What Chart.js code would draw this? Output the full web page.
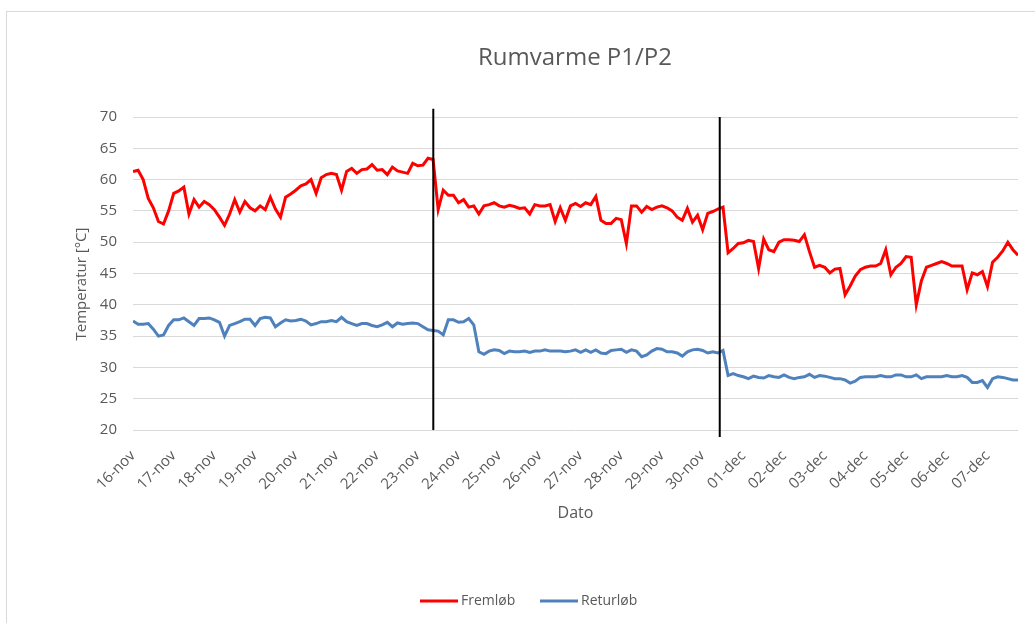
<!DOCTYPE html>
<html>
<head>
<meta charset="utf-8">
<title>Rumvarme P1/P2</title>
<script src="https://cdn.jsdelivr.net/npm/chart.js@4/dist/chart.umd.min.js"></script>
<style>
  html, body { margin: 0; padding: 0; background: #fff; }
  #wrap { position: relative; width: 1035px; height: 623px; overflow: hidden; }
  #frame { position: absolute; left: 6px; top: 11px; width: 1100px; height: 700px; border: 1px solid #d9d9d9; box-sizing: border-box; }
  #c { position: absolute; left: 0; top: 0; }
</style>
</head>
<body>
<div id="wrap">
  <div id="frame"></div>
  <canvas id="c" width="1035" height="623"></canvas>
</div>
<script>
// Date labels for the x axis (one per day, starting 16 November)
const dagLabels = ['16-nov','17-nov','18-nov','19-nov','20-nov','21-nov','22-nov','23-nov',
  '24-nov','25-nov','26-nov','27-nov','28-nov','29-nov','30-nov',
  '01-dec','02-dec','03-dec','04-dec','05-dec','06-dec','07-dec'];

// Readings every 3 hours (0.125 day), one row per day
const maalInterval = 0.125;

// Fremløb (supply) temperature, °C
const fremloeb = [
  61.3, 61.5, 60.0, 57.0, 55.5, 53.3, 52.9, 55.0,   // 16-nov
  57.8, 58.2, 58.8, 54.5, 56.8, 55.6, 56.5, 56.0,   // 17-nov
  55.2, 54.0, 52.7, 54.5, 56.8, 54.8, 56.5, 55.5,   // 18-nov
  55.0, 55.8, 55.2, 57.2, 55.3, 54.0, 57.2, 57.7,   // 19-nov
  58.3, 59.0, 59.3, 60.0, 57.8, 60.3, 60.8, 61.0,   // 20-nov
  60.8, 58.3, 61.3, 61.8, 61.0, 61.6, 61.7, 62.4,   // 21-nov
  61.5, 61.6, 60.8, 62.0, 61.4, 61.2, 61.0, 62.6,   // 22-nov
  62.2, 62.3, 63.4, 63.2, 55.2, 58.3, 57.5, 57.5,   // 23-nov
  56.3, 56.8, 55.6, 55.8, 54.5, 55.8, 56.0, 56.3,   // 24-nov
  55.8, 55.6, 55.9, 55.7, 55.4, 55.5, 54.5, 56.0,   // 25-nov
  55.8, 55.8, 56.0, 53.3, 55.5, 53.5, 55.8, 56.2,   // 26-nov
  55.7, 56.3, 56.0, 57.3, 53.5, 53.0, 53.0, 53.8,   // 27-nov
  53.6, 49.8, 55.8, 55.8, 54.8, 55.7, 55.2, 55.6,   // 28-nov
  55.8, 55.5, 55.0, 54.0, 53.5, 55.4, 53.2, 54.3,   // 29-nov
  52.0, 54.6, 54.9, 55.3, 55.6, 48.3, 49.0, 49.8,   // 30-nov
  49.9, 50.3, 50.1, 45.8, 50.5, 48.8, 48.5, 50.0,   // 01-dec
  50.4, 50.4, 50.3, 50.1, 51.2, 48.5, 46.0, 46.3,   // 02-dec
  46.0, 45.1, 45.7, 45.8, 41.6, 43.0, 44.6, 45.6,   // 03-dec
  46.0, 46.2, 46.2, 46.6, 48.8, 44.8, 46.0, 46.6,   // 04-dec
  47.7, 47.6, 40.0, 43.8, 46.0, 46.3, 46.6, 46.9,   // 05-dec
  46.6, 46.2, 46.2, 46.2, 42.4, 45.1, 44.8, 45.3,   // 06-dec
  42.9, 46.8, 47.6, 48.6, 50.0, 48.8, 47.9          // 07-dec
];

// Returløb (return) temperature, °C
const returloeb = [
  37.4, 36.9, 36.9, 37.0, 36.1, 35.0, 35.2, 36.7,   // 16-nov
  37.6, 37.6, 37.9, 37.3, 36.7, 37.8, 37.8, 37.9,   // 17-nov
  37.6, 37.2, 35.0, 36.7, 37.0, 37.3, 37.7, 37.7,   // 18-nov
  36.7, 37.8, 38.0, 37.9, 36.5, 37.1, 37.6, 37.4,   // 19-nov
  37.5, 37.7, 37.4, 36.8, 37.0, 37.3, 37.3, 37.5,   // 20-nov
  37.3, 38.0, 37.3, 37.0, 36.7, 37.0, 37.0, 36.7,   // 21-nov
  36.5, 36.8, 37.2, 36.5, 37.1, 36.9, 37.0, 37.1,   // 22-nov
  37.0, 36.5, 36.0, 35.9, 35.8, 35.2, 37.6, 37.6,   // 23-nov
  37.2, 37.3, 37.8, 36.8, 32.5, 32.1, 32.6, 32.8,   // 24-nov
  32.7, 32.2, 32.6, 32.5, 32.5, 32.6, 32.4, 32.6,   // 25-nov
  32.6, 32.8, 32.6, 32.6, 32.6, 32.5, 32.6, 32.8,   // 26-nov
  32.4, 32.8, 32.4, 32.8, 32.3, 32.2, 32.7, 32.8,   // 27-nov
  32.9, 32.4, 32.8, 32.6, 31.7, 32.0, 32.6, 33.0,   // 28-nov
  32.9, 32.5, 32.5, 32.3, 31.8, 32.5, 32.8, 32.9,   // 29-nov
  32.7, 32.3, 32.5, 32.3, 32.7, 28.7, 29.0, 28.7,   // 30-nov
  28.5, 28.2, 28.6, 28.4, 28.3, 28.7, 28.5, 28.4,   // 01-dec
  28.8, 28.4, 28.2, 28.4, 28.5, 28.9, 28.4, 28.7,   // 02-dec
  28.6, 28.4, 28.2, 28.2, 28.0, 27.5, 27.8, 28.4,   // 03-dec
  28.5, 28.5, 28.5, 28.7, 28.5, 28.5, 28.8, 28.8,   // 04-dec
  28.5, 28.5, 28.8, 28.2, 28.5, 28.5, 28.5, 28.5,   // 05-dec
  28.7, 28.5, 28.5, 28.7, 28.4, 27.6, 27.6, 27.9,   // 06-dec
  26.8, 28.2, 28.5, 28.4, 28.2, 28.0, 28.0          // 07-dec
];

// Vertical markers for the P1/P2 switch-overs (day offset, bottom and top in °C)
const skiftDage = [7.38, 14.42];
const skiftBund = [20.0, 18.9];
const skiftTop  = [71.3, 70.0];

const tekstFarve = '#595959';
const fontFamilie = '"Open Sans", "DejaVu Sans", sans-serif';

const tilPunkter = arr => arr.map((v, i) => ({ x: i * maalInterval, y: v }));

const skiftDatasets = skiftDage.map((d, k) => ({
  label: 'skift' + (k + 1),
  data: [{ x: d, y: skiftBund[k] }, { x: d, y: skiftTop[k] }],
  borderColor: '#000000',
  borderWidth: 2,
  pointRadius: 0,
  clip: false
}));

// Title, y-axis title and legend placed by hand around the plot
const overlayPlugin = {
  id: 'overlay',
  afterDraw(chart) {
    const ctx = chart.ctx;
    ctx.save();
    ctx.fillStyle = tekstFarve;
    ctx.textBaseline = 'middle';
    ctx.textAlign = 'center';
    ctx.font = '24px ' + fontFamilie;
    ctx.fillText('Rumvarme P1/P2', 575, 58);

    ctx.save();
    ctx.translate(82, 284);
    ctx.rotate(-Math.PI / 2);
    ctx.font = '15px ' + fontFamilie;
    ctx.fillText('Temperatur [°C]', 0, 0);
    ctx.restore();

    const legend = [
      { text: 'Fremløb', color: '#ff0000', x: 420 },
      { text: 'Returløb', color: '#4f81bd', x: 540 }
    ];
    ctx.font = '14px ' + fontFamilie;
    ctx.textAlign = 'left';
    legend.forEach(item => {
      ctx.strokeStyle = item.color;
      ctx.lineWidth = 3;
      ctx.beginPath();
      ctx.moveTo(item.x, 601);
      ctx.lineTo(item.x + 38, 601);
      ctx.stroke();
      ctx.fillText(item.text, item.x + 41, 601);
    });
    ctx.restore();
  }
};

new Chart(document.getElementById('c'), {
  type: 'line',
  data: {
    datasets: [
      ...skiftDatasets,
      {
        label: 'Fremløb',
        data: tilPunkter(fremloeb),
        borderColor: '#ff0000',
        borderWidth: 3,
        pointRadius: 0,
        tension: 0
      },
      {
        label: 'Returløb',
        data: tilPunkter(returloeb),
        borderColor: '#4f81bd',
        borderWidth: 3,
        pointRadius: 0,
        tension: 0
      }
    ]
  },
  options: {
    responsive: false,
    animation: false,
    devicePixelRatio: 1,
    layout: { padding: { left: 0, right: 17, top: 117, bottom: 0 } },
    plugins: {
      legend: { display: false },
      title: { display: false },
      tooltip: { enabled: false }
    },
    scales: {
      x: {
        type: 'linear',
        min: 0,
        max: 21.75,
        afterFit(scale) {
          scale.height = 193;
          scale.paddingLeft = 0;
          scale.paddingRight = 0;
        },
        grid: { display: false },
        border: { display: false },
        ticks: {
          stepSize: 1,
          autoSkip: false,
          minRotation: 45,
          maxRotation: 45,
          padding: 9,
          color: tekstFarve,
          font: { family: fontFamilie, size: 15 },
          callback: v => Number.isInteger(v) && dagLabels[v] ? dagLabels[v] : ''
        },
        title: {
          display: true,
          text: 'Dato',
          color: tekstFarve,
          font: { family: fontFamilie, size: 16 },
          padding: { top: 0, bottom: 100 }
        }
      },
      y: {
        min: 20,
        max: 70,
        afterFit(scale) { scale.width = 133; },
        grid: { color: '#d9d9d9', lineWidth: 1, drawTicks: false },
        border: { display: false },
        ticks: {
          stepSize: 5,
          padding: 16,
          color: tekstFarve,
          font: { family: fontFamilie, size: 15 }
        }
      }
    }
  },
  plugins: [overlayPlugin]
});
</script>
</body>
</html>
